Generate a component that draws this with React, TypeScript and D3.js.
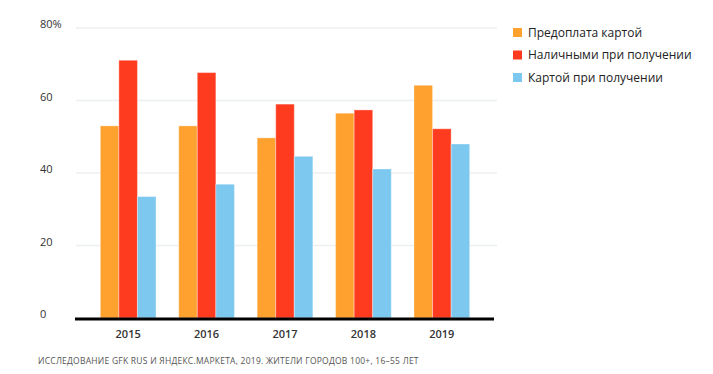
import React from 'react';
import * as d3 from 'd3';

const years = ['2015', '2016', '2017', '2018', '2019'];
const prepaid = [53.0, 53.0, 49.7, 56.5, 64.2];
const cashOnDelivery = [71.1, 67.7, 59.0, 57.4, 52.2];
const cardOnDelivery = [33.5, 36.9, 44.6, 41.1, 48.0];
const seriesNames = ['Предоплата картой', 'Наличными при получении', 'Картой при получении'];
const seriesColors = ['#ffa12e', '#ff3b1f', '#7cc8ee'];
const yTicks = [0, 20, 40, 60, 80];
const source = 'ИССЛЕДОВАНИЕ GFK RUS И ЯНДЕКС.МАРКЕТА, 2019. ЖИТЕЛИ ГОРОДОВ 100+, 16–55 ЛЕТ';

const width = 713;
const height = 374;
const font = '"Open Sans", "Noto Sans", sans-serif';

export default function App() {
  const series = [prepaid, cashOnDelivery, cardOnDelivery];

  const x = d3.scaleBand<string>()
    .domain(years)
    .range([76, 494])
    .paddingInner(0.29)
    .paddingOuter(0.31);

  const x1 = d3.scaleBand<number>()
    .domain(d3.range(series.length))
    .range([0, x.bandwidth()]);

  const y = d3.scaleLinear().domain([0, 80]).range([318, 28]);

  return (
    <svg width={width} height={height}
      style={{ position: 'absolute', left: 0, top: 0, background: '#fff' }}
      fontFamily={font}>
      {/* grid */}
      {yTicks.map((t) => (
        <g key={t}>
          {t > 0 && (
            <line x1={76} x2={497} y1={y(t)} y2={y(t)} stroke="#eceff0" strokeWidth={1.5} />
          )}
          <text x={40} y={y(t)} fontSize={11} fill="#333">
            {t === 80 ? t + '%' : t}
          </text>
        </g>
      ))}

      {/* bars */}
      {years.map((yr, i) => (
        <g key={yr} transform={`translate(${x(yr)},0)`}>
          {series.map((s, k) => (
            <rect key={k}
              x={x1(k)}
              y={y(s[i])}
              width={x1.bandwidth()}
              height={y(0) - y(s[i])}
              fill={seriesColors[k]}
              stroke="#fff"
              strokeOpacity={0.35}
              strokeWidth={1} />
          ))}
        </g>
      ))}

      {/* x axis */}
      <line x1={75} x2={494} y1={y(0) + 1} y2={y(0) + 1} stroke="#000" strokeWidth={3} />
      {years.map((yr) => (
        <text key={yr} x={(x(yr) ?? 0) + x.bandwidth() / 2} y={338}
          textAnchor="middle" fontSize={11} fontWeight={600} fill="#333">
          {yr}
        </text>
      ))}

      {/* legend */}
      {seriesNames.map((name, k) => (
        <g key={name} transform={`translate(513,${28 + k * 22.5})`}>
          <rect width={9} height={9} fill={seriesColors[k]} />
          <text x={15} y={8.5} fontSize={12} fill="#222">
            {name}
          </text>
        </g>
      ))}

      <text x={38} y={364} fontSize={8.5} fill="#555" letterSpacing={0.24}>
        {source}
      </text>
    </svg>
  );
}
